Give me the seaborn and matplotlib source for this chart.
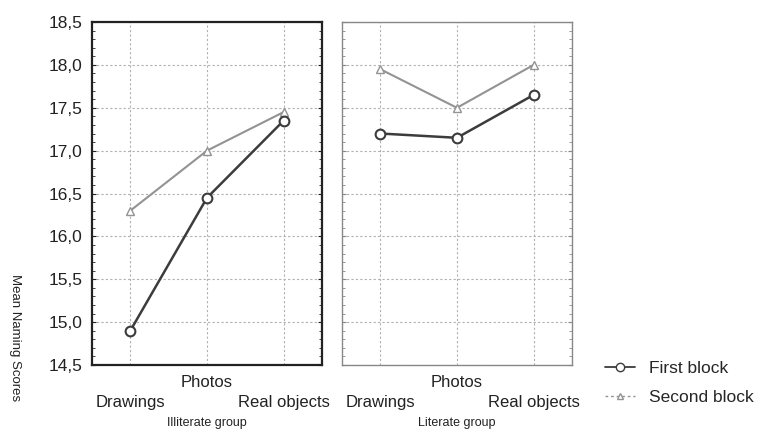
import pandas as pd
import seaborn as sns
import matplotlib
import matplotlib.pyplot as plt
from matplotlib.lines import Line2D
from matplotlib.ticker import MultipleLocator, FuncFormatter

matplotlib.use('Agg')

# Data
conditions = ['Drawings', 'Photos', 'Real objects']
groups = ['Illiterate group', 'Literate group']
illiterate_first = [14.9, 16.45, 17.35]
illiterate_second = [16.3, 17.0, 17.45]
literate_first = [17.2, 17.15, 17.65]
literate_second = [17.95, 17.5, 18.0]
y_ticks = [14.5, 15.0, 15.5, 16.0, 16.5, 17.0, 17.5, 18.0, 18.5]

# Build a long table
rows = []
for grp, first, second in [(groups[0], illiterate_first, illiterate_second),
                           (groups[1], literate_first, literate_second)]:
    for i, cond in enumerate(conditions):
        rows.append({'group': grp, 'pos': i, 'condition': cond, 'block': 'First block', 'score': first[i]})
        rows.append({'group': grp, 'pos': i, 'condition': cond, 'block': 'Second block', 'score': second[i]})
df = pd.DataFrame(rows)

sns.set_style('white')
plt.rcParams['font.family'] = ['Liberation Sans', 'DejaVu Sans']

fig = plt.figure(figsize=(7.64, 4.32), dpi=100)
ax_left = fig.add_axes([0.1204, 0.155, 0.301, 0.794])
ax_right = fig.add_axes([0.4476, 0.155, 0.301, 0.794])

dark = '#3c3c3c'
light = '#939393'

for ax, grp, frame_color, frame_width in [(ax_left, groups[0], '#222222', 1.6),
                                          (ax_right, groups[1], '#888888', 1.0)]:
    sub = df[df['group'] == grp]
    sns.lineplot(data=sub[sub['block'] == 'Second block'], x='pos', y='score', ax=ax,
                 color=light, linewidth=1.5, marker='^', markersize=6,
                 markerfacecolor='white', markeredgecolor=light, markeredgewidth=1.0,
                 legend=False)
    sns.lineplot(data=sub[sub['block'] == 'First block'], x='pos', y='score', ax=ax,
                 color=dark, linewidth=1.8, marker='o', markersize=7,
                 markerfacecolor='white', markeredgecolor=dark, markeredgewidth=1.5,
                 legend=False)

    ax.set_xlim(-0.5, 2.5)
    ax.set_ylim(14.5, 18.5)
    ax.set_yticks(y_ticks)
    ax.yaxis.set_minor_locator(MultipleLocator(0.1))
    ax.grid(True, which='major', color='#b0b0b0', linestyle=(0, (2, 2)), linewidth=0.8)
    ax.set_axisbelow(True)
    for s in ax.spines.values():
        s.set_color(frame_color)
        s.set_linewidth(frame_width)

    # Staggered category labels
    ax.set_xticks([0, 1, 2])
    ax.set_xticklabels([])
    ax.tick_params(axis='x', which='major', direction='in', length=3, color=frame_color)
    ax.tick_params(axis='y', which='both', direction='in', left=True, right=True,
                   color=frame_color, length=3)
    ax.tick_params(axis='y', which='minor', length=2)
    for i, cond in enumerate(conditions):
        y_off = -0.028 if i == 1 else -0.088
        ax.text(i, y_off, cond, transform=ax.get_xaxis_transform(),
                ha='center', va='top', fontsize=12, color='#222222')
    ax.text(0.5, -0.152, grp, transform=ax.transAxes, ha='center', va='top',
            fontsize=9, color='#222222')
    ax.set_xlabel('')
    ax.set_ylabel('')

ax_left.yaxis.set_major_formatter(FuncFormatter(lambda v, p: f'{v:.1f}'.replace('.', ',')))
ax_left.tick_params(axis='y', labelsize=12.5, labelcolor='#222222', pad=7)
ax_right.tick_params(axis='y', labelleft=False)

fig.text(0.02, 0.218, 'Mean Naming Scores', rotation=-90, ha='center', va='center',
         fontsize=9.5, color='#222222')

handles = [
    Line2D([0], [0], color=dark, linewidth=1.3, marker='o', markersize=6,
           markerfacecolor='white', markeredgecolor=dark),
    Line2D([0], [0], color=light, linewidth=1.0, linestyle=(0, (2, 2)), marker='^',
           markersize=5, markerfacecolor='white', markeredgecolor=light),
]
fig.legend(handles, ['First block', 'Second block'], loc='center left',
           bbox_to_anchor=(0.783, 0.114), frameon=False, fontsize=12.5,
           handlelength=1.7, labelspacing=0.8, handletextpad=0.8,
           borderaxespad=0.0)

plt.savefig('out.png', dpi=100)
plt.close()
